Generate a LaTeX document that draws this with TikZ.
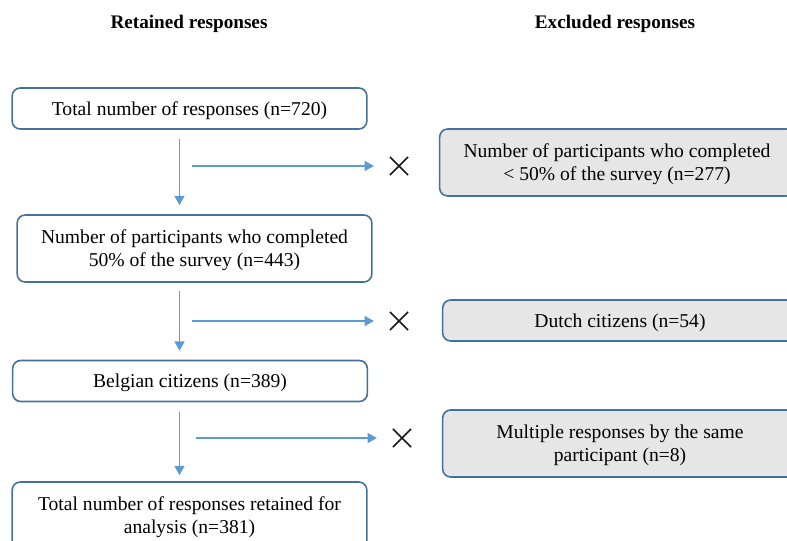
\documentclass[tikz,border=0pt]{standalone}
\usepackage{fontspec}
\setmainfont{Liberation Serif}
\usetikzlibrary{arrows.meta,shapes.misc,positioning}
\definecolor{boxline}{HTML}{41719C}
\definecolor{flowline}{HTML}{5B9BD5}
\definecolor{boxfill}{HTML}{E7E6E6}

\begin{document}
\begin{tikzpicture}[
    x=0.75pt, y=-0.75pt,
    font=\fontsize{14.7}{17.3}\selectfont,
    keptbox/.style={draw=boxline, line width=1.2pt, rounded corners=6pt, align=center, minimum width=266pt, inner sep=0pt, text depth=0pt},
    dropbox/.style={keptbox, fill=boxfill},
    onerow/.style={minimum height=30.75pt},
    tworow/.style={minimum height=50.25pt},
    header/.style={font=\fontsize{14.4}{17}\selectfont\bfseries, text depth=0pt},
    flow/.style={-{Triangle[length=7pt, width=7.5pt]}, draw=flowline, line width=1.15pt},
    cross/.style={cross out, draw=black!90, line width=1.1pt, minimum size=12.5pt, inner sep=0pt}
]
\useasboundingbox (0,0) rectangle (787,541);
\clip (0,0) rectangle (787,541);

% Titoli delle colonne
\node[header] (hdrKept) at (189,22) {Retained responses};
\node[header] (hdrDrop) at (615,22) {Excluded responses};

% Risposte mantenute
\node[keptbox, onerow] (kept1) at (189.5,108.5) {Total number of responses (n=720)};
\node[keptbox, tworow] (kept2) at (194.5,248.5) {Number of participants who completed\\50\% of the survey (n=443)};
\node[keptbox, onerow] (kept3) at (190,381) {Belgian citizens (n=389)};
\node[keptbox, tworow] (kept4) at (189.5,515.5) {Total number of responses retained for\\analysis (n=381)};

% Risposte escluse
\node[dropbox, tworow] (drop1) at (617,162.5) {Number of participants who completed\\< 50\% of the survey (n=277)};
\node[dropbox, onerow] (drop2) at (620,320.5) {Dutch citizens (n=54)};
\node[dropbox, tworow] (drop3) at (620,443.5) {Multiple responses by the same\\participant (n=8)};

% Croci
\node[cross] (cross1) at (399,166) {};
\node[cross] (cross2) at (399,321) {};
\node[cross] (cross3) at (402,438) {};

% Frecce verticali
\coordinate (spine) at (179.5,0);
\draw[flow, shorten <=6.75pt, shorten >=6.75pt] (kept1.south -| spine) -- (kept2.north -| spine);
\draw[flow, shorten <=6pt, shorten >=6.75pt] (kept2.south -| spine) -- (kept3.north -| spine);
\draw[flow, shorten <=7.5pt, shorten >=4.5pt] (kept3.south -| spine) -- (kept4.north -| spine);

% Frecce di esclusione
\coordinate (tail1) at (192,166);
\coordinate (tail2) at (192,321);
\coordinate (tail3) at (196,438);
\draw[flow, shorten >=12pt] (tail1) -- (cross1.west);
\draw[flow, shorten >=12pt] (tail2) -- (cross2.west);
\draw[flow, shorten >=12pt] (tail3) -- (cross3.west);

\end{tikzpicture}
\end{document}
